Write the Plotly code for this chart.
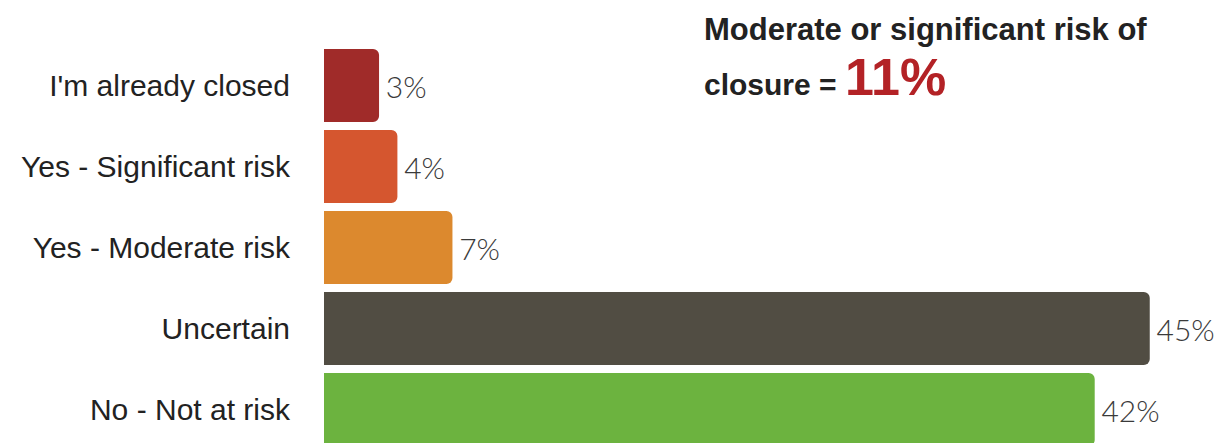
import plotly.graph_objects as go

categories = ["I'm already closed", "Yes - Significant risk", "Yes - Moderate risk", "Uncertain", "No - Not at risk"]
values = [3, 4, 7, 45, 42]
labels = ["3%", "4%", "7%", "45%", "42%"]
colors = ["#a02b29", "#d5562f", "#dc892e", "#514d43", "#6cb33f"]
headline_value = "11%"

fig = go.Figure(go.Bar(
    y=categories, x=values, orientation="h",
    marker=dict(color=colors, line=dict(width=0), cornerradius=6),
    width=0.9,
    text=labels, texttemplate="\u2009%{text}", textposition="outside",
    textfont=dict(family="Lato", size=30, color="#3a3a3a", weight=300),
    cliponaxis=False, hoverinfo="skip",
))

fig.update_layout(
    width=1226, height=443,
    margin=dict(l=324, r=0, t=0, b=0, autoexpand=False),
    paper_bgcolor="white", plot_bgcolor="white",
    showlegend=False,
    xaxis=dict(range=[0, 902 / 18.35], visible=False, fixedrange=True, automargin=False),
    yaxis=dict(
        type="category", categoryorder="array", categoryarray=categories,
        range=[4.4136, -1.0556], automargin=False,
        showgrid=False, zeroline=False, showline=False, ticks="",
        ticklabelstandoff=33,
        tickfont=dict(family="Liberation Sans, Arial", size=30, color="#222222"),
    ),
    annotations=[
        dict(xref="paper", yref="paper", x=(702 - 324) / 902, y=1 - 10 / 443,
             xanchor="left", yanchor="top", showarrow=False, align="left",
             text="<b>Moderate or significant risk of</b>",
             font=dict(family="Liberation Sans, Arial", size=31, color="#222222")),
        dict(xref="paper", yref="paper", x=(702 - 324) / 902, y=1 - 46 / 443,
             xanchor="left", yanchor="top", showarrow=False, align="left",
             text="<b>closure = </b><b><span style='font-size:52px;color:#b32226'>" + headline_value + "</span></b>",
             font=dict(family="Liberation Sans, Arial", size=30, color="#222222")),
    ],
)

fig.write_html("out.html", config={"displayModeBar": False},
               post_script="document.body.style.margin='0';document.body.style.overflow='hidden';")
